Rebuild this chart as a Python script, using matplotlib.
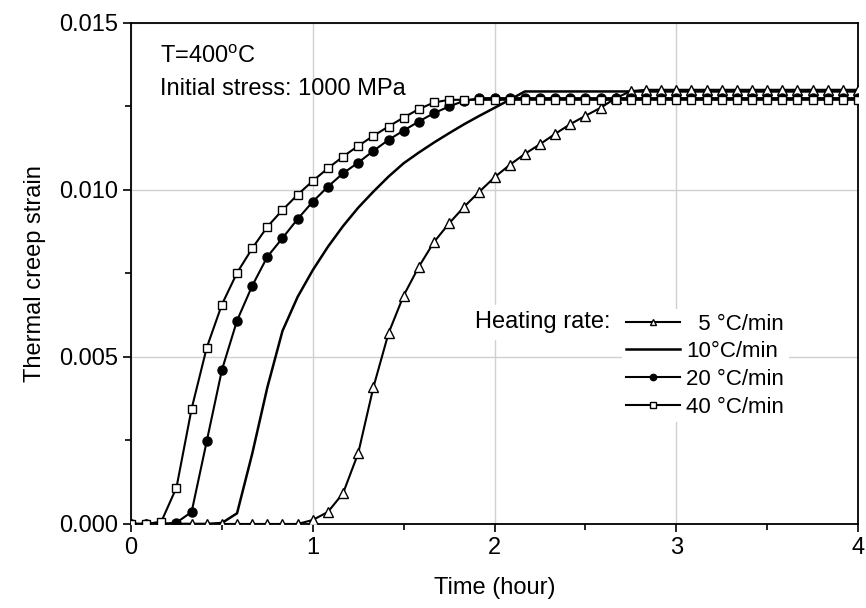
import numpy as np
import matplotlib.pyplot as plt
from matplotlib.ticker import MultipleLocator, FormatStrFormatter

plt.rcParams['font.family'] = ['Liberation Sans', 'DejaVu Sans']
plt.rcParams['mathtext.fontset'] = 'custom'
plt.rcParams['mathtext.rm'] = 'Liberation Sans'

# sampling every 5 minutes, 0 .. 4 hours
time_hr = np.arange(0, 245, 5) / 60.0

# 5 C/min (open triangles)
strain_5 = [0, 0, 0, 0, 0, 0, 0, 0, 0, 0, 0, 0,
            0.00012, 0.00036, 0.00092, 0.00212, 0.00409, 0.00571, 0.00684, 0.00770,
            0.00844, 0.00900, 0.00950, 0.00995, 0.01038, 0.01075, 0.01108, 0.01137,
            0.01168, 0.01197, 0.01222, 0.01246, 0.01275, 0.01296, 0.01300, 0.01300,
            0.01300, 0.01300, 0.01300, 0.01300, 0.01300, 0.01300, 0.01300, 0.01300,
            0.01300, 0.01300, 0.01300, 0.01300, 0.01300]

# 10 C/min (solid line)
strain_10 = [0, 0, 0, 0, 0, 0, 0.00003, 0.00032, 0.00210, 0.00409, 0.00578, 0.00680,
             0.00760, 0.00830, 0.00892, 0.00947, 0.00995, 0.01040, 0.01080, 0.01112,
             0.01142, 0.01170, 0.01197, 0.01222, 0.01246, 0.01270, 0.01295, 0.01295,
             0.01295, 0.01295, 0.01295, 0.01295, 0.01295, 0.01295, 0.01295, 0.01295,
             0.01295, 0.01295, 0.01295, 0.01295, 0.01295, 0.01295, 0.01295, 0.01295,
             0.01295, 0.01295, 0.01295, 0.01295, 0.01295]

# 20 C/min (filled circles)
strain_20 = [0, 0, 0, 0.00004, 0.00036, 0.00248, 0.00461, 0.00609, 0.00713, 0.00800,
             0.00856, 0.00913, 0.00965, 0.01010, 0.01050, 0.01082, 0.01117, 0.01150,
             0.01178, 0.01205, 0.01230, 0.01250, 0.01267, 0.01275, 0.01275, 0.01275,
             0.01275, 0.01275, 0.01275, 0.01275, 0.01275, 0.01275, 0.01275, 0.01275,
             0.01275, 0.01275, 0.01275, 0.01275, 0.01275, 0.01275, 0.01275, 0.01275,
             0.01275, 0.01275, 0.01275, 0.01275, 0.01275, 0.01275, 0.01275]

# 40 C/min (open squares)
strain_40 = [0, 0, 0.00007, 0.00109, 0.00345, 0.00528, 0.00657, 0.00752, 0.00825, 0.00890,
             0.00940, 0.00986, 0.01027, 0.01065, 0.01100, 0.01132, 0.01162, 0.01190,
             0.01217, 0.01242, 0.01262, 0.01270, 0.01270, 0.01270, 0.01270, 0.01270,
             0.01270, 0.01270, 0.01270, 0.01270, 0.01270, 0.01270, 0.01270, 0.01270,
             0.01270, 0.01270, 0.01270, 0.01270, 0.01270, 0.01270, 0.01270, 0.01270,
             0.01270, 0.01270, 0.01270, 0.01270, 0.01270, 0.01270, 0.01270]

labels = ['  5 °C/min', '10°C/min', '20 °C/min', '40 °C/min']

fig = plt.figure(figsize=(8.66, 6.08), dpi=100)
ax = fig.add_axes([0.1513, 0.1382, 0.8395, 0.824])

l5, = ax.plot(time_hr, strain_5, color='black', lw=1.5, marker='^', ms=7,
              mfc='white', mec='black', mew=1.0, zorder=4)
l10, = ax.plot(time_hr, strain_10, color='black', lw=1.8, zorder=3)
l20, = ax.plot(time_hr, strain_20, color='black', lw=1.5, marker='o', ms=6.5,
               mfc='black', mec='black', zorder=4)
l40, = ax.plot(time_hr, strain_40, color='black', lw=1.5, marker='s', ms=5.5,
               mfc='white', mec='black', mew=1.0, zorder=5)

ax.set_xlim(0, 4)
ax.set_ylim(0, 0.015)
ax.xaxis.set_major_locator(MultipleLocator(1))
ax.xaxis.set_minor_locator(MultipleLocator(0.5))
ax.yaxis.set_major_locator(MultipleLocator(0.005))
ax.yaxis.set_minor_locator(MultipleLocator(0.0025))
ax.yaxis.set_major_formatter(FormatStrFormatter('%.3f'))
ax.tick_params(which='both', direction='out', top=False, right=False, labelsize=17)
ax.tick_params(which='major', length=6, width=1.2)
ax.tick_params(which='minor', length=4, width=1.2)
ax.grid(True, which='major', color='#d0d0d0', lw=1.0)
ax.set_axisbelow(True)
for s in ax.spines.values():
    s.set_linewidth(1.3)

ax.set_xlabel('Time (hour)', fontsize=17, labelpad=13)
ax.set_ylabel('Thermal creep strain', fontsize=17, labelpad=9)

ax.text(0.04, 0.955, 'T=400$^\\mathrm{o}$C', transform=ax.transAxes, fontsize=17,
        va='top', ha='left')
ax.text(0.04, 0.89, 'Initial stress: 1000 MPa', transform=ax.transAxes, fontsize=17,
        va='top', ha='left')

leg = ax.legend([l5, l10, l20, l40], labels, loc='upper left',
                bbox_to_anchor=(0.66, 0.451), fontsize=16, frameon=True,
                handlelength=2.4, handletextpad=0.3, labelspacing=0.3,
                markerscale=0.7, borderpad=0.2)
leg.get_frame().set_facecolor('white')
leg.get_frame().set_edgecolor('none')
leg.get_frame().set_alpha(1.0)

ax.text(0.473, 0.403, 'Heating rate:', transform=ax.transAxes, fontsize=17,
        va='center', ha='left', backgroundcolor='white', zorder=6)

fig.savefig('out.png', dpi=100)
